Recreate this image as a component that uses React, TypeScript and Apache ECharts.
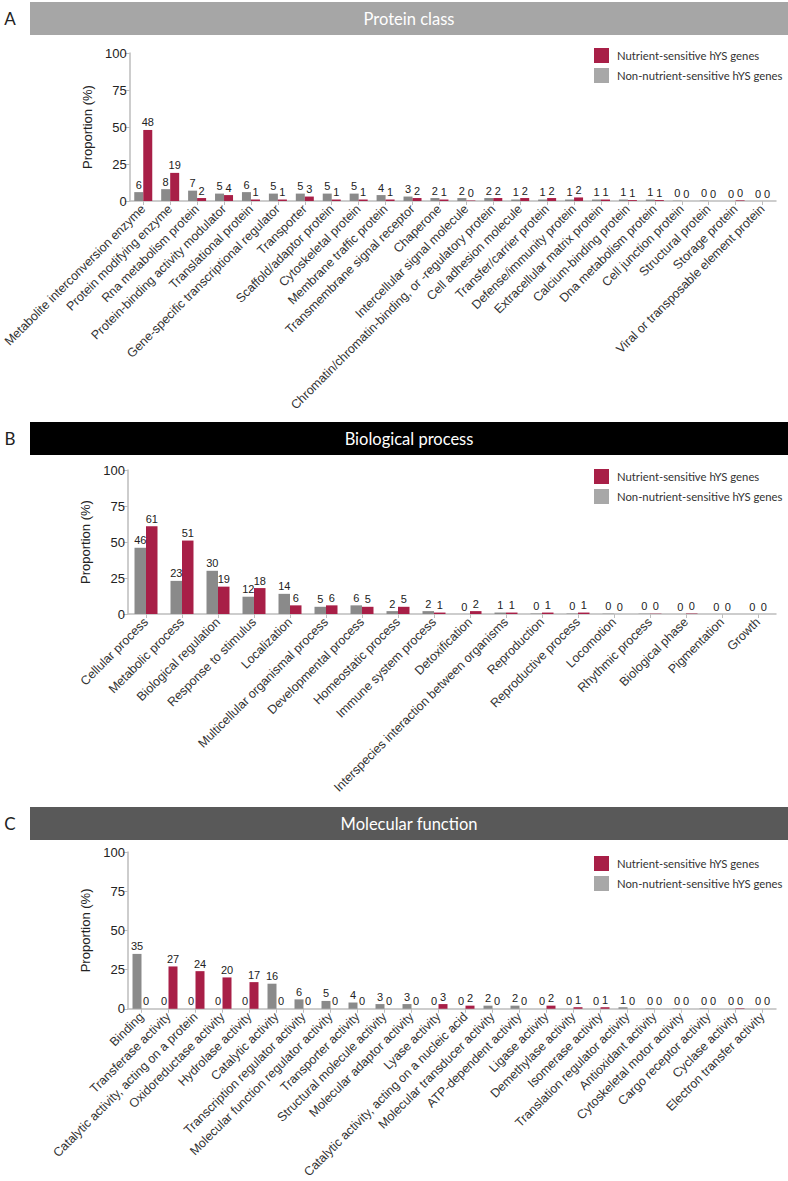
import React, { useEffect, useRef } from "react";
import * as echarts from "echarts";

// ---------- Panel A: Protein class ----------
const proteinCategories = [
  "Metabolite interconversion enzyme",
  "Protein modifying enzyme",
  "Rna metabolism protein",
  "Protein-binding activity modulator",
  "Translational protein",
  "Gene-specific transcriptional regulator",
  "Transporter",
  "Scaffold/adaptor protein",
  "Cytoskeletal protein",
  "Membrane traffic protein",
  "Transmembrane signal receptor",
  "Chaperone",
  "Intercellular signal molecule",
  "Chromatin/chromatin-binding, or -regulatory protein",
  "Cell adhesion molecule",
  "Transfer/carrier protein",
  "Defense/immunity protein",
  "Extracellular matrix protein",
  "Calcium-binding protein",
  "Dna metabolism protein",
  "Cell junction protein",
  "Structural protein",
  "Storage protein",
  "Viral or transposable element protein",
];
const proteinNonNutrient = [6, 8, 7, 5, 6, 5, 5, 5, 5, 4, 3, 2, 2, 2, 1, 1, 1, 1, 1, 1, 0.2, 0.2, 0, 0];
const proteinNutrient = [48, 19, 2, 4, 1, 1, 3, 1, 1, 1, 2, 1, 0.3, 2, 2, 2, 2.4, 1, 0.6, 0.6, 0, 0, 0.4, 0];

// ---------- Panel B: Biological process ----------
const processCategories = [
  "Cellular process",
  "Metabolic process",
  "Biological regulation",
  "Response to stimulus",
  "Localization",
  "Multicellular organismal process",
  "Developmental process",
  "Homeostatic process",
  "Immune system process",
  "Detoxification",
  "Interspecies interaction between organisms",
  "Reproduction",
  "Reproductive process",
  "Locomotion",
  "Rhythmic process",
  "Biological phase",
  "Pigmentation",
  "Growth",
];
const processNonNutrient = [46, 23, 30, 12, 14, 5, 6, 2, 2, 0, 1, 0.3, 0.3, 0.2, 0.2, 0, 0, 0];
const processNutrient = [61, 51, 19, 18, 6, 6, 5, 5, 1, 2, 1, 1, 1, 0, 0.2, 0.3, 0, 0];

// ---------- Panel C: Molecular function ----------
const functionCategories = [
  "Binding",
  "Transferase activity",
  "Catalytic activity, acting on a protein",
  "Oxidoreductase activity",
  "Hydrolase activity",
  "Catalytic activity",
  "Transcription regulator activity",
  "Molecular function regulator activity",
  "Transporter activity",
  "Structural molecule activity",
  "Molecular adaptor activity",
  "Lyase activity",
  "Catalytic activity, acting on a nucleic acid",
  "Molecular transducer activity",
  "ATP-dependent activity",
  "Ligase activity",
  "Demethylase activity",
  "Isomerase activity",
  "Translation regulator activity",
  "Antioxidant activity",
  "Cytoskeletal motor activity",
  "Cargo receptor activity",
  "Cyclase activity",
  "Electron transfer activity",
];
const functionNonNutrient = [35, 0, 0, 0, 0, 16, 6, 5, 4, 3, 3, 0, 0, 2, 2, 0, 0, 0, 1, 0.3, 0.3, 0.3, 0, 0];
const functionNutrient = [0, 27, 24, 20, 17, 0, 0, 0, 0, 0, 0, 3, 2, 0, 0, 2, 1, 1, 0, 0, 0, 0, 0.3, 0];

const yTicks = [0, 25, 50, 75, 100];

const SERIES_NUTRIENT = "Nutrient-sensitive hYS genes";
const SERIES_NON = "Non-nutrient-sensitive hYS genes";

const RED = "#a81f47";
const GRAY = "#8a8a8a";
const LEGEND_GRAY = "#a8a8a8";
const AXIS_COLOR = "#bdbdbd";
const AXIS_FONT = "'Liberation Sans', Arial, Helvetica, sans-serif";
const TITLE_FONT = "Lato, 'Open Sans', sans-serif";

export default function App() {
  const ref = useRef<HTMLDivElement>(null);

  useEffect(() => {
    if (!ref.current) return;
    const chart = echarts.init(ref.current, undefined, { renderer: "svg" });

    const panels = [
      { top: 53, height: 148, cats: proteinCategories, non: proteinNonNutrient, nut: proteinNutrient, barW: 9, header: 2, headerColor: "#a6a6a6", letter: "A", title: "Protein class", legendTop: 48 },
      { top: 470, height: 144, cats: processCategories, non: processNonNutrient, nut: processNutrient, barW: 11.5, header: 422, headerColor: "#000000", letter: "B", title: "Biological process", legendTop: 469 },
      { top: 852, height: 157, cats: functionCategories, non: functionNonNutrient, nut: functionNutrient, barW: 9, header: 807, headerColor: "#595959", letter: "C", title: "Molecular function", legendTop: 856 },
    ];

    const grid = panels.map((p) => ({ left: 128, width: 648, top: p.top, height: p.height, containLabel: false }));

    const xAxis = panels.map((p, i) => ({
      type: "category",
      gridIndex: i,
      data: p.cats,
      axisLine: { show: true, lineStyle: { color: AXIS_COLOR, width: 1.5 } },
      axisTick: { show: true, alignWithLabel: true, length: 4, lineStyle: { color: AXIS_COLOR } },
      axisLabel: { interval: 0, rotate: 45, fontSize: 12.5, color: "#333", fontFamily: AXIS_FONT, margin: 6 },
    }));

    const yAxis = panels.map((p, i) => ({
      type: "value",
      gridIndex: i,
      min: yTicks[0],
      max: yTicks[yTicks.length - 1],
      interval: yTicks[1] - yTicks[0],
      name: "Proportion (%)",
      nameLocation: "middle",
      nameGap: 30,
      nameTextStyle: { fontSize: 13, color: "#222", fontFamily: AXIS_FONT },
      axisLine: { show: true, lineStyle: { color: AXIS_COLOR, width: 1.5 } },
      axisTick: { show: true, length: 5, lineStyle: { color: AXIS_COLOR } },
      axisLabel: { fontSize: 13, color: "#222", fontFamily: AXIS_FONT, margin: 3 },
      splitLine: { show: false },
    }));

    const labelCfg = {
      show: true,
      position: "top",
      distance: 2,
      fontSize: 11,
      color: "#222",
      fontFamily: AXIS_FONT,
      formatter: (pr: any) => String(Math.round(pr.value)),
    };

    const series: any[] = [];
    panels.forEach((p, i) => {
      series.push({
        type: "bar",
        name: SERIES_NON,
        xAxisIndex: i,
        yAxisIndex: i,
        data: p.non,
        barWidth: p.barW,
        barGap: "0%",
        itemStyle: { color: GRAY },
        label: labelCfg,
      });
      series.push({
        type: "bar",
        name: SERIES_NUTRIENT,
        xAxisIndex: i,
        yAxisIndex: i,
        data: p.nut,
        barWidth: p.barW,
        barGap: "0%",
        itemStyle: { color: RED },
        label: labelCfg,
      });
    });

    const legend = panels.map((p) => ({
      orient: "vertical",
      left: 594,
      top: p.legendTop,
      padding: 0,
      itemWidth: 15,
      itemHeight: 15,
      itemGap: 5,
      selectedMode: false,
      icon: "rect",
      textStyle: { fontFamily: TITLE_FONT, fontSize: 11.3, color: "#333", padding: [0, 0, 0, 3] },
      data: [
        { name: SERIES_NUTRIENT, itemStyle: { color: RED } },
        { name: SERIES_NON, itemStyle: { color: LEGEND_GRAY } },
      ],
    }));

    const graphic: any[] = [];
    panels.forEach((p) => {
      graphic.push({
        type: "rect",
        shape: { x: 30, y: p.header, width: 758, height: 33 },
        style: { fill: p.headerColor },
        silent: true,
      });
      graphic.push({
        type: "text",
        x: 409,
        y: p.header + 16.5,
        style: {
          text: p.title,
          fill: "#ffffff",
          fontSize: 16.5,
          fontFamily: TITLE_FONT,
          align: "center",
          verticalAlign: "middle",
          textAlign: "center",
          textVerticalAlign: "middle",
        },
      });
      graphic.push({
        type: "text",
        x: 10,
        y: p.header + 16.5,
        style: {
          text: p.letter,
          fill: "#222",
          fontSize: 17,
          fontFamily: TITLE_FONT,
          align: "center",
          verticalAlign: "middle",
          textAlign: "center",
          textVerticalAlign: "middle",
        },
      });
    });

    chart.setOption({
      animation: false,
      backgroundColor: "#ffffff",
      grid,
      xAxis,
      yAxis,
      series,
      legend,
      graphic,
    });

    return () => chart.dispose();
  }, []);

  return (
    <div
      ref={ref}
      style={{ position: "fixed", left: 0, top: 0, width: 788, height: 1181, background: "#fff" }}
    />
  );
}
